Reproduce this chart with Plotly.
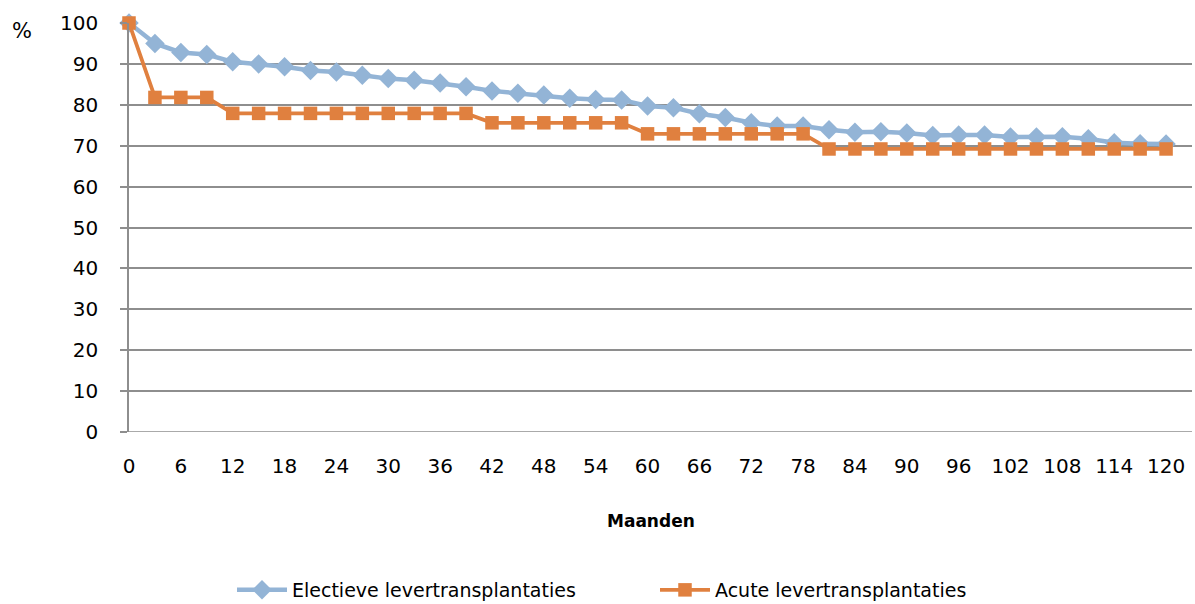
import plotly.graph_objects as go

months = list(range(0, 121, 3))
electief = [100, 95.0, 92.8, 92.3, 90.5, 90.0, 89.3, 88.4, 88.0, 87.2, 86.4, 86.0, 85.3, 84.4,
            83.4, 82.8, 82.4, 81.6, 81.3, 81.2, 79.7, 79.3, 77.8, 76.9, 75.6, 74.8, 74.8, 73.9,
            73.3, 73.4, 73.1, 72.5, 72.6, 72.6, 72.1, 72.1, 72.2, 71.7, 70.7, 70.5, 70.4]
acuut = [100, 81.8, 81.8, 81.8] + [77.9] * 10 + [75.6] * 6 + [72.9] * 7 + [69.2] * 14
x_ticks = list(range(0, 121, 6))
y_ticks = list(range(0, 101, 10))

FONT = "'DejaVu Sans', sans-serif"
BLUE = "#93B4D6"
ORANGE = "#E0803F"
GRID = "#8E8E8E"

PL, PR, PT, PB = 129, 1192, 23, 432
def px(xp):
    return (xp - PL) / (PR - PL)
def py(yp):
    return (PB - yp) / (PB - PT)

fig = go.Figure()
fig.add_trace(go.Scatter(x=months, y=electief, mode="lines+markers", name="Electieve levertransplantaties",
                         line=dict(color=BLUE, width=4.5),
                         marker=dict(symbol="diamond", size=15, color=BLUE), cliponaxis=False))
fig.add_trace(go.Scatter(x=months, y=acuut, mode="lines+markers", name="Acute levertransplantaties",
                         line=dict(color=ORANGE, width=3.8),
                         marker=dict(symbol="square", size=13.5, color=ORANGE), cliponaxis=False))

fig.update_layout(
    width=1195, height=604,
    margin=dict(l=PL, r=1195 - PR, t=PT, b=604 - PB),
    paper_bgcolor="white", plot_bgcolor="white",
    font=dict(family=FONT, size=20, color="#000000"),
    showlegend=True,
    legend=dict(orientation="h", xref="container", yref="container", x=655 / 1195, xanchor="center",
                y=1 - 590 / 604, yanchor="middle", font=dict(size=19), itemwidth=50,
                entrywidth=358, entrywidthmode="pixels", traceorder="normal"),
    xaxis=dict(range=[0, 123], tickvals=x_ticks, ticktext=[str(v) for v in x_ticks],
               showgrid=False, zeroline=False, showline=False, ticks="",
               ticklabelstandoff=20, tickfont=dict(size=20)),
    yaxis=dict(range=[0, 100], tickvals=y_ticks, showgrid=True, gridcolor=GRID, gridwidth=1.5,
               zeroline=False, showline=True, linecolor=GRID, linewidth=1.5,
               ticks="outside", ticklen=7, tickcolor=GRID, tickwidth=1.5,
               ticklabelstandoff=18, tickfont=dict(size=20)),
    annotations=[
        dict(text="%", xref="paper", yref="paper", x=px(22), y=py(31), xanchor="center", yanchor="middle",
             showarrow=False, font=dict(size=21)),
        dict(text="<b>Maanden</b>", xref="paper", yref="paper", x=px(651), y=py(521),
             xanchor="center", yanchor="middle", showarrow=False, font=dict(size=17)),
    ],
)
fig.add_shape(type="line", xref="paper", yref="y", x0=0, x1=1, y0=0, y1=0,
              line=dict(color=GRID, width=1.5), layer="below")

fig.write_html("out.html")
